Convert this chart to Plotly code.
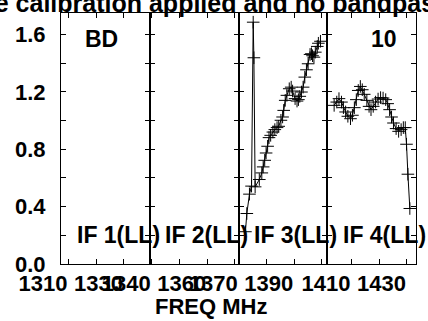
import plotly.graph_objects as go

# IF 3 (LL) spectrum: frequency (MHz) and amplitude
if3_freq = [1372.4, 1372.9, 1373.85, 1374.6, 1375.2, 1375.45, 1375.9, 1377.4, 1378.3,
            1378.8, 1379.35, 1379.85, 1380.4, 1380.9, 1381.5, 1382.3, 1383.0, 1383.8,
            1384.4, 1385.2, 1385.8, 1386.2, 1386.75, 1387.35, 1388.2, 1388.9, 1389.4,
            1390.3, 1391.0, 1391.5, 1392.0, 1392.6, 1393.2, 1393.8, 1394.4, 1395.0,
            1395.7, 1396.2, 1396.6, 1397.1, 1397.6, 1398.3, 1398.7, 1399.45]
if3_amp = [0.225, 0.352, 0.487, 0.543, 1.686, 1.438, 0.538, 0.589, 0.635,
           0.677, 0.723, 0.774, 0.821, 0.881, 0.897, 0.920, 0.937, 0.951,
           0.960, 1.002, 1.025, 1.071, 1.141, 1.176, 1.222, 1.233, 1.206,
           1.153, 1.136, 1.146, 1.169, 1.199, 1.233, 1.303, 1.354, 1.396,
           1.461, 1.466, 1.452, 1.442, 1.477, 1.517, 1.539, 1.553]

# IF 4 (LL) spectrum
if4_freq = [1403.75, 1404.7, 1405.5, 1406.4, 1407.1, 1407.9, 1408.7, 1409.65, 1410.35,
            1411.05, 1411.75, 1412.45, 1413.2, 1413.9, 1414.6, 1415.55, 1416.35, 1417.05,
            1417.85, 1418.7, 1419.6, 1420.5, 1421.4, 1422.35, 1423.05, 1423.75, 1424.45,
            1425.15, 1426.1, 1427.0, 1427.9, 1428.7, 1429.4, 1429.85, 1430.35, 1431.05]
if4_amp = [1.106, 1.129, 1.153, 1.129, 1.090, 1.060, 1.030, 1.013, 1.037,
           1.090, 1.146, 1.210, 1.238, 1.215, 1.183, 1.141, 1.099, 1.076,
           1.099, 1.129, 1.150, 1.160, 1.157, 1.146, 1.118, 1.076, 1.025,
           0.983, 0.944, 0.925, 0.937, 0.951, 0.951, 0.835, 0.626, 0.387]

# Panel layout: frequency window of each IF and its labelled ticks
if_ranges = [[1307.3, 1339.3], [1339.3, 1371.3], [1369.9, 1401.9], [1401.27, 1433.27]]
if_tickvals = [[1310, 1330], [1340, 1360], [1370, 1390], [1410, 1430]]
if_names = ["IF 1(LL)", "IF 2(LL)", "IF 3(LL)", "IF 4(LL)"]
y_range = [0, 1.75]
y_ticks = [0.0, 0.4, 0.8, 1.2, 1.6]

FONT = "Liberation Sans, Arial, sans-serif"
W, H = 428, 321
ML, MR, MT, MB = 54, 11, 13, 57
PW, PH = W - ML - MR, H - MT - MB


def px_x(px):
    return (px - ML) / PW


def px_y(py):
    return (H - MB - py) / PH


fig = go.Figure()

series = {2: (if3_freq, if3_amp), 3: (if4_freq, if4_amp)}
for i in range(4):
    sfx = "" if i == 0 else str(i + 1)
    xs, ys = series.get(i, ([], []))
    fig.add_trace(go.Scatter(
        x=xs, y=ys, mode="lines+markers", xaxis="x" + sfx, yaxis="y" + sfx,
        line=dict(color="black", width=1),
        marker=dict(symbol="cross-thin", size=9, color="black",
                    line=dict(color="black", width=1)),
        showlegend=False, hoverinfo="skip"))

    d0, d1 = i / 4, (i + 1) / 4
    fig.layout["xaxis" + sfx] = dict(
        domain=[d0, d1], range=if_ranges[i], anchor="y" + sfx,
        tickmode="array", tickvals=if_tickvals[i],
        ticktext=[str(v) for v in if_tickvals[i]],
        tickangle=0, ticklabeloverflow="allow",
        ticks="inside", ticklen=5, tickwidth=1, tickcolor="black",
        ticklabelposition="outside left", ticklabelstandoff=0,
        minor=dict(dtick=10, tick0=0, ticks="inside", ticklen=5,
                   tickwidth=1, tickcolor="black"),
        showline=True, linecolor="black", linewidth=1, mirror="ticks",
        showgrid=False, zeroline=False,
        tickfont=dict(family=FONT, size=22, color="black", weight="bold"))
    fig.layout["yaxis" + sfx] = dict(
        domain=[0, 1], range=y_range, anchor="x" + sfx,
        tickmode="array", tickvals=y_ticks,
        ticktext=["%.1f" % v for v in y_ticks],
        showticklabels=(i == 0), ticklabelstandoff=10,
        ticks="inside", ticklen=5, tickwidth=1, tickcolor="black",
        minor=dict(dtick=0.2, tick0=0, ticks="inside", ticklen=5,
                   tickwidth=1, tickcolor="black"),
        showline=True, linecolor="black", linewidth=1, mirror="ticks",
        showgrid=False, zeroline=False,
        tickfont=dict(family=FONT, size=22, color="black", weight="bold"))

annotations = []
# IF labels along the bottom of each panel
for i, name in enumerate(if_names):
    left_px = ML + i * PW / 4 + 14
    annotations.append(dict(
        text="<b>%s</b>" % name, x=px_x(left_px), y=px_y(235),
        xref="paper", yref="paper", xanchor="left", yanchor="middle",
        showarrow=False, font=dict(family=FONT, size=23, color="black")))

# Source name and baseline number
annotations.append(dict(text="<b>BD</b>", x=px_x(95), y=px_y(38.5),
                        xref="paper", yref="paper", xanchor="center", yanchor="middle",
                        showarrow=False, font=dict(family=FONT, size=23, color="black")))
annotations.append(dict(text="<b>10</b>", x=px_x(384), y=px_y(39),
                        xref="paper", yref="paper", xanchor="center", yanchor="middle",
                        showarrow=False, font=dict(family=FONT, size=23, color="black")))

# Axis title
annotations.append(dict(text="<b>FREQ MHz</b>", x=px_x(207.5), y=px_y(306),
                        xref="paper", yref="paper", xanchor="center", yanchor="middle",
                        showarrow=False, font=dict(family=FONT, size=22, color="black")))

# Plot heading
annotations.append(dict(text="<b>Phase calibration applied and no bandpass applied</b>",
                        x=px_x(-77), y=px_y(3), xref="paper", yref="paper",
                        xanchor="left", yanchor="middle", showarrow=False,
                        font=dict(family=FONT, size=25, color="black")))

fig.update_layout(
    width=W, height=H,
    margin=dict(l=ML, r=MR, t=MT, b=MB, pad=0),
    paper_bgcolor="white", plot_bgcolor="white",
    annotations=annotations,
)

fig.write_html("out.html")
